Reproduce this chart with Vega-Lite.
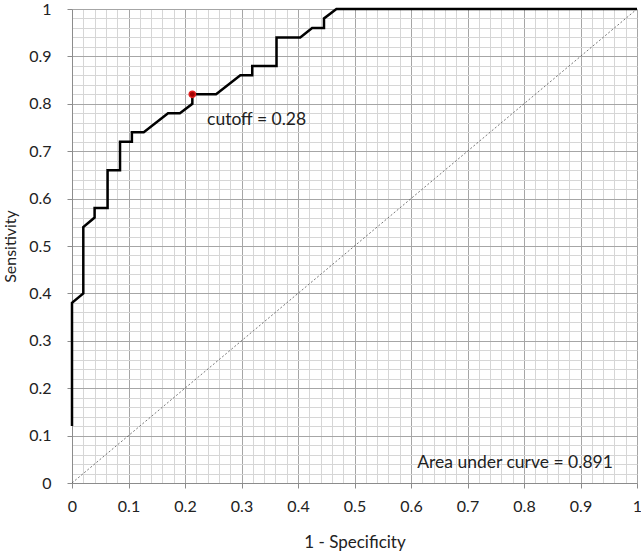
{
  "$schema": "https://vega.github.io/schema/vega-lite/v6.json",
  "autosize": "none",
  "width": 565,
  "height": 474,
  "padding": {"left": 72, "top": 9, "right": 4, "bottom": 73},
  "background": "white",
  "config": {
    "view": {"stroke": null},
    "axis": {"labelFont": "Lato", "titleFont": "Lato", "labelColor": "#222222", "titleColor": "#222222", "titleFontWeight": "normal"}
  },
  "datasets": {
    "roc": [
      {"fpr": 0.0, "tpr": 0.12},
      {"fpr": 0.0, "tpr": 0.38},
      {"fpr": 0.02, "tpr": 0.40},
      {"fpr": 0.02, "tpr": 0.54},
      {"fpr": 0.04, "tpr": 0.56},
      {"fpr": 0.04, "tpr": 0.58},
      {"fpr": 0.063, "tpr": 0.58},
      {"fpr": 0.063, "tpr": 0.66},
      {"fpr": 0.085, "tpr": 0.66},
      {"fpr": 0.085, "tpr": 0.72},
      {"fpr": 0.106, "tpr": 0.72},
      {"fpr": 0.106, "tpr": 0.74},
      {"fpr": 0.127, "tpr": 0.74},
      {"fpr": 0.17, "tpr": 0.78},
      {"fpr": 0.191, "tpr": 0.78},
      {"fpr": 0.213, "tpr": 0.80},
      {"fpr": 0.213, "tpr": 0.82},
      {"fpr": 0.255, "tpr": 0.82},
      {"fpr": 0.298, "tpr": 0.86},
      {"fpr": 0.319, "tpr": 0.86},
      {"fpr": 0.319, "tpr": 0.88},
      {"fpr": 0.362, "tpr": 0.88},
      {"fpr": 0.362, "tpr": 0.94},
      {"fpr": 0.404, "tpr": 0.94},
      {"fpr": 0.425, "tpr": 0.96},
      {"fpr": 0.446, "tpr": 0.96},
      {"fpr": 0.446, "tpr": 0.98},
      {"fpr": 0.468, "tpr": 1.0},
      {"fpr": 1.0, "tpr": 1.0}
    ],
    "diag": [{"fpr": 0, "tpr": 0}, {"fpr": 1, "tpr": 1}],
    "cut": [{"fpr": 0.213, "tpr": 0.82}],
    "notes": [
      {"fpr": 0.239, "tpr": 0.765, "text": "cutoff   = 0.28"},
      {"fpr": 0.611, "tpr": 0.042, "text": "Area under curve = 0.891"}
    ]
  },
  "layer": [
    {
      "data": {"name": "diag"},
      "mark": {"type": "line", "color": "#555555", "strokeWidth": 0.8, "strokeDash": [2, 2]},
      "encoding": {
        "x": {
          "field": "fpr", "type": "quantitative",
          "scale": {"domain": [0, 1], "nice": false},
          "axis": {
            "title": "1 - Specificity", "titleFontSize": 17, "titlePadding": 20,
            "tickCount": 100,
            "values": [0,0.02,0.04,0.06,0.08,0.1,0.12,0.14,0.16,0.18,0.2,0.22,0.24,0.26,0.28,0.3,0.32,0.34,0.36,0.38,0.4,0.42,0.44,0.46,0.48,0.5,0.52,0.54,0.56,0.58,0.6,0.62,0.64,0.66,0.68,0.7,0.72,0.74,0.76,0.78,0.8,0.82,0.84,0.86,0.88,0.9,0.92,0.94,0.96,0.98,1],
            "labelExpr": "abs(datum.value*10 - round(datum.value*10)) < 0.001 ? format(datum.value, '~g') : ''",
            "labelFontSize": 16, "labelPadding": 10, "labelFlush": false, "labelOverlap": false,
            "grid": true,
            "gridColor": {"condition": {"test": "abs(datum.value*10 - round(datum.value*10)) < 0.001", "value": "#a6a6a6"}, "value": "#d6d6d6"},
            "gridWidth": 1,
            "domainColor": "#8c8c8c",
            "tickColor": "#8c8c8c",
            "tickSize": {"condition": {"test": "abs(datum.value*10 - round(datum.value*10)) < 0.001", "value": 5}, "value": 0}
          }
        },
        "y": {
          "field": "tpr", "type": "quantitative",
          "scale": {"domain": [0, 1], "nice": false},
          "axis": {
            "title": "Sensitivity", "titleFontSize": 16, "titlePadding": 10,
            "tickCount": 100,
            "values": [0,0.02,0.04,0.06,0.08,0.1,0.12,0.14,0.16,0.18,0.2,0.22,0.24,0.26,0.28,0.3,0.32,0.34,0.36,0.38,0.4,0.42,0.44,0.46,0.48,0.5,0.52,0.54,0.56,0.58,0.6,0.62,0.64,0.66,0.68,0.7,0.72,0.74,0.76,0.78,0.8,0.82,0.84,0.86,0.88,0.9,0.92,0.94,0.96,0.98,1],
            "labelExpr": "abs(datum.value*10 - round(datum.value*10)) < 0.001 ? format(datum.value, '~g') : ''",
            "labelFontSize": 16, "labelPadding": 16, "labelFlush": false, "labelOverlap": false,
            "grid": true,
            "gridColor": {"condition": {"test": "abs(datum.value*10 - round(datum.value*10)) < 0.001", "value": "#a6a6a6"}, "value": "#d6d6d6"},
            "gridWidth": 1,
            "domainColor": "#8c8c8c",
            "tickColor": "#8c8c8c",
            "tickSize": {"condition": {"test": "abs(datum.value*10 - round(datum.value*10)) < 0.001", "value": 5}, "value": 0}
          }
        }
      }
    },
    {
      "data": {"name": "roc"},
      "mark": {"type": "line", "color": "#000000", "strokeWidth": 2.5, "strokeJoin": "miter"},
      "encoding": {
        "x": {"field": "fpr", "type": "quantitative"},
        "y": {"field": "tpr", "type": "quantitative"},
        "order": {"value": 0}
      }
    },
    {
      "data": {"name": "cut"},
      "mark": {"type": "point", "filled": true, "fill": "#a00000", "stroke": "#e02020", "strokeWidth": 1.5, "size": 40, "opacity": 1},
      "encoding": {
        "x": {"field": "fpr", "type": "quantitative"},
        "y": {"field": "tpr", "type": "quantitative"}
      }
    },
    {
      "data": {"name": "notes"},
      "mark": {"type": "text", "align": "left", "baseline": "middle", "font": "Lato", "fontSize": 17.5, "color": "#222222"},
      "encoding": {
        "x": {"field": "fpr", "type": "quantitative"},
        "y": {"field": "tpr", "type": "quantitative"},
        "text": {"field": "text"}
      }
    }
  ]
}
